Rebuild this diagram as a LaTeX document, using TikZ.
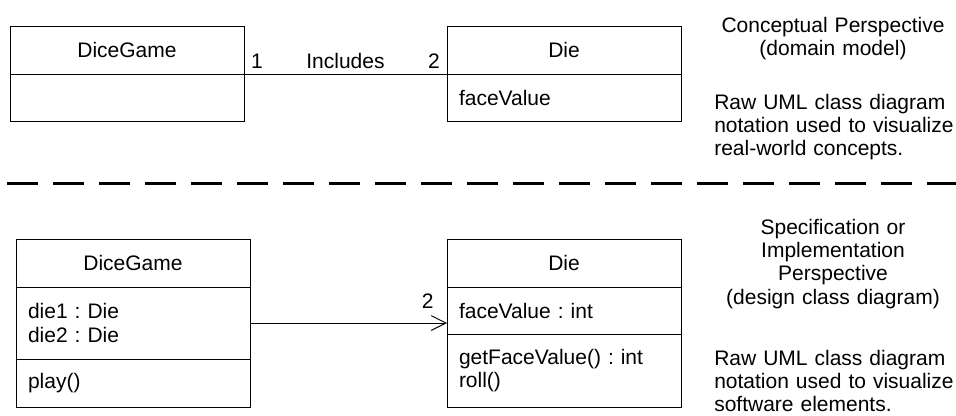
\documentclass[tikz,border=0pt]{standalone}
\usepackage{fontspec}
\setmainfont{Liberation Sans}
\usetikzlibrary{positioning,arrows.meta}
\newcommand\umlsize{\fontsize{15.75}{17.6}\selectfont\frenchspacing}

\begin{document}
\begin{tikzpicture}[
  x=0.75pt, y=-0.75pt,  % one unit = one pixel of the 956x415 frame
  clspart/.style={draw, line width=0.75pt, outer sep=0pt, inner xsep=9pt, inner ysep=0pt,
    text width=157.5pt, align=left, font=\umlsize, minimum width=175.5pt},
  clsname/.style={clspart, align=center, minimum height=36pt},
  multlabel/.style={font=\umlsize, inner xsep=5pt, inner ysep=3.5pt},
  sidenote/.style={font=\umlsize, inner sep=0pt, text width=187.5pt}
]
\useasboundingbox (0,0) rectangle (956,415);

% ---------------- Conceptual perspective (domain model) ----------------
\node[clsname, anchor=north west] (gameA) at (10,26) {DiceGame};
\node[clspart, minimum height=35.25pt, below=0pt of gameA] (gameAattr) {};
\node[clsname, anchor=north west] (dieA) at (447,26) {Die};
\node[clspart, minimum height=35.25pt, below=0pt of dieA] (dieAattr) {faceValue};

% association with multiplicities
\draw[line width=0.75pt] (gameA.south east) -- (dieA.south west)
  node[multlabel, pos=0, anchor=south west] (multA1) {1}
  node[multlabel, midway, anchor=south] (assocA) {Includes}
  node[multlabel, pos=1, anchor=south east] (multA2) {2};

% ---------------- Separator ----------------
\coordinate (sepL) at (7,183);
\coordinate (sepR) at (956,183);
\draw[line width=2.25pt, dash pattern=on 23.25pt off 11.25pt] (sepL) -- (sepR);

% ---------------- Design perspective (design class diagram) ----------------
\node[clsname, anchor=north west] (gameB) at (16,239) {DiceGame};
\node[clspart, minimum height=54pt, below=0pt of gameB] (gameBattr) {die1 : Die\\die2 : Die};
\node[clspart, minimum height=36pt, below=0pt of gameBattr] (gameBops) {play()};
\node[clsname, anchor=north west] (dieB) at (447,239) {Die};
\node[clspart, minimum height=35.25pt, below=0pt of dieB] (dieBattr) {faceValue : int};
\node[clspart, minimum height=54.75pt, below=0pt of dieBattr] (dieBops) {getFaceValue() : int\\roll()};

% navigable association
\draw[line width=0.75pt, -{Straight Barb[length=11pt,width=11pt]}]
  (gameBattr.east) -- (gameBattr.east -| dieBattr.west)
  node[multlabel, pos=1, anchor=south east, inner sep=0pt, xshift=-9.75pt, yshift=10.5pt] (multB) {2};

% ---------------- Side notes ----------------
\node[sidenote, align=center, anchor=base] (viewA) at (833,32)
  {Conceptual Perspective\\(domain model)};
\node[sidenote, align=left, text width=180pt, anchor=base west] (descA) at (714,109)
  {Raw UML class diagram\\notation used to visualize\\real-world concepts.};
\node[sidenote, align=center, anchor=base] (viewB) at (833,234)
  {Specification or\\Implementation\\Perspective\\(design class diagram)};
\node[sidenote, align=left, text width=180pt, anchor=base west] (descB) at (714,365)
  {Raw UML class diagram\\notation used to visualize\\software elements.};

\end{tikzpicture}
\end{document}
